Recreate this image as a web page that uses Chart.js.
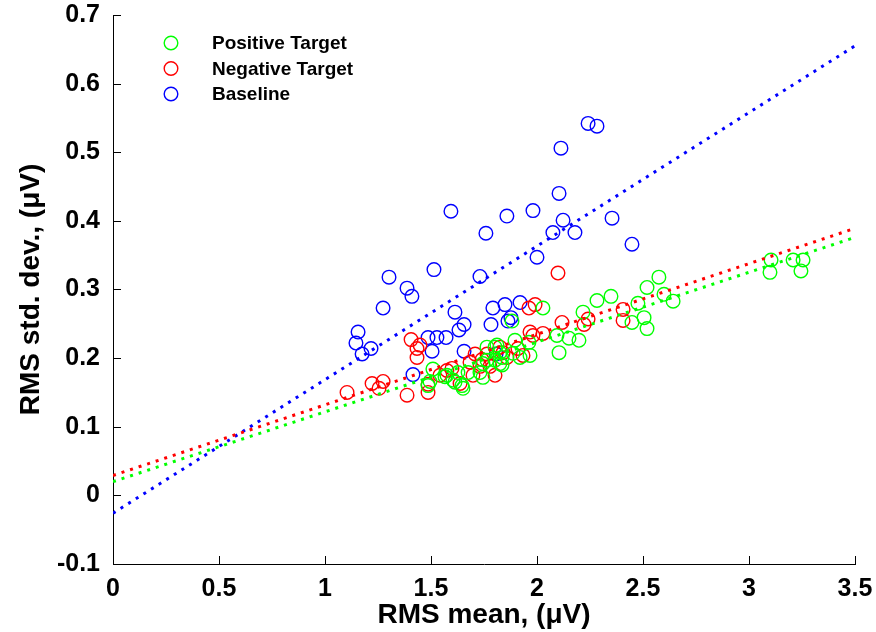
<!DOCTYPE html>
<html>
<head>
<meta charset="utf-8">
<script src="https://cdn.jsdelivr.net/npm/chart.js@4.4.1/dist/chart.umd.min.js"></script>
<style>
  html, body { margin: 0; padding: 0; background: #fff; }
  #wrap { width: 876px; height: 632px; }
</style>
</head>
<body>
<div id="wrap"><canvas id="rmsChart" width="876" height="632"></canvas></div>
<script>
// RMS mean vs RMS std. dev. per condition
const posX = [3.104, 3.099, 3.208, 3.255, 3.245, 2.575, 2.519, 2.599, 2.642, 2.476, 2.505, 2.519, 2.448,
  2.349, 2.283, 2.217, 2.104, 2.151, 2.198, 2.094, 2.028, 1.882, 1.962, 1.920, 1.896, 1.835, 1.802, 1.745,
  1.887, 1.802, 1.835, 1.745, 1.731, 1.627, 1.575, 1.646, 1.613, 1.509, 1.495, 1.486, 1.604, 1.651, 1.566,
  1.764, 1.811, 1.825, 1.764, 1.675, 1.825, 1.967];
const posY = [0.343, 0.325, 0.343, 0.343, 0.327, 0.318, 0.303, 0.293, 0.283, 0.280, 0.259, 0.243, 0.252,
  0.290, 0.284, 0.267, 0.208, 0.229, 0.226, 0.233, 0.273, 0.254, 0.223, 0.201, 0.226, 0.201, 0.216, 0.172,
  0.207, 0.197, 0.190, 0.192, 0.179, 0.179, 0.175, 0.160, 0.165, 0.184, 0.166, 0.160, 0.168, 0.156, 0.173,
  0.216, 0.219, 0.208, 0.197, 0.179, 0.192, 0.204];

const negX = [1.104, 1.222, 1.274, 1.255, 1.387, 1.406, 1.434, 1.448, 1.434, 1.486, 1.486, 1.542, 1.575,
  1.599, 1.637, 1.684, 1.708, 1.741, 1.731, 1.778, 1.802, 1.698, 1.840, 1.858, 1.910, 1.934, 1.962, 1.991,
  1.967, 1.981, 2.028, 2.099, 2.118, 2.222, 2.241, 2.406, 2.406, 1.825, 1.764];
const negY = [0.150, 0.163, 0.166, 0.156, 0.146, 0.227, 0.214, 0.219, 0.201, 0.150, 0.162, 0.175, 0.182,
  0.185, 0.163, 0.194, 0.206, 0.198, 0.188, 0.188, 0.175, 0.175, 0.208, 0.201, 0.214, 0.204, 0.273, 0.278,
  0.238, 0.233, 0.236, 0.324, 0.252, 0.249, 0.257, 0.271, 0.255, 0.216, 0.206];

const baseX = [2.241, 2.283, 2.113, 2.104, 1.594, 1.858, 1.981, 2.123, 1.759, 2.075, 2.179, 2.354, 2.448,
  2.000, 1.731, 1.514, 1.302, 1.387, 1.410, 1.274, 1.613, 1.656, 1.632, 1.156, 1.146, 1.175, 1.217, 1.486,
  1.528, 1.571, 1.505, 1.656, 1.415, 1.792, 1.849, 1.920, 1.783, 1.863, 1.877, 1.807];
const baseY = [0.542, 0.538, 0.506, 0.440, 0.414, 0.407, 0.415, 0.401, 0.382, 0.383, 0.383, 0.404, 0.366,
  0.347, 0.319, 0.329, 0.318, 0.302, 0.290, 0.273, 0.267, 0.249, 0.241, 0.238, 0.222, 0.206, 0.214, 0.230,
  0.230, 0.230, 0.210, 0.210, 0.176, 0.273, 0.278, 0.281, 0.249, 0.254, 0.259, 0.206];

// linear fits: positive, negative, baseline
const fitIntercept = [0.020, 0.029, -0.026];
const fitSlope = [0.1017, 0.1029, 0.1946];
const fitRange = [0, 3.5];

const seriesNames = ["Positive Target", "Negative Target", "Baseline"];
const seriesColors = ["#00ff00", "#ff0000", "#0000ff"];

const xTicks = [0, 0.5, 1, 1.5, 2, 2.5, 3, 3.5];
const yTicks = [-0.1, 0, 0.1, 0.2, 0.3, 0.4, 0.5, 0.6, 0.7];

const FONT = "'Liberation Sans', Arial, Helvetica, sans-serif";

function pts(xs, ys) {
  return xs.map((x, i) => ({x: x, y: ys[i]}));
}

const scatterSets = [[posX, posY], [negX, negY], [baseX, baseY]].map((s, i) => ({
  label: seriesNames[i],
  data: pts(s[0], s[1]),
  borderColor: seriesColors[i],
  backgroundColor: "rgba(0,0,0,0)",
  pointRadius: 6.8,
  pointBorderWidth: 1.4,
  pointHoverRadius: 6.8,
  showLine: false,
  order: 2
}));

const fitSets = fitIntercept.map((b, i) => ({
  label: "fit " + seriesNames[i],
  data: fitRange.map(x => ({x: x, y: b + fitSlope[i] * x})),
  borderColor: seriesColors[i],
  borderWidth: 3,
  borderDash: [3, 6],
  pointRadius: 0,
  showLine: true,
  fill: false,
  order: 1
}));

// MATLAB style inward tick marks
const inwardTicks = {
  id: "inwardTicks",
  afterDraw(chart) {
    const ctx = chart.ctx;
    const a = chart.chartArea;
    const xs = chart.scales.x, ys = chart.scales.y;
    ctx.save();
    ctx.strokeStyle = "#000";
    ctx.lineWidth = 1;
    ctx.beginPath();
    xs.ticks.forEach(t => {
      const px = Math.round(xs.getPixelForValue(t.value)) + 0.5;
      ctx.moveTo(px, a.bottom);
      ctx.lineTo(px, a.bottom - 8);
    });
    ys.ticks.forEach(t => {
      const py = Math.round(ys.getPixelForValue(t.value)) + 0.5;
      ctx.moveTo(a.left, py);
      ctx.lineTo(a.left + 8, py);
    });
    ctx.stroke();
    ctx.restore();
  }
};

// legend box inside the plot, top left
const plotLegend = {
  id: "plotLegend",
  afterDraw(chart) {
    const ctx = chart.ctx;
    ctx.save();
    ctx.font = "bold 19px " + FONT;
    ctx.textBaseline = "middle";
    seriesNames.forEach((name, i) => {
      const y = 43 + i * 25.5;
      ctx.strokeStyle = seriesColors[i];
      ctx.lineWidth = 1.4;
      ctx.beginPath();
      ctx.arc(171, y, 6.8, 0, Math.PI * 2);
      ctx.stroke();
      ctx.fillStyle = "#000";
      ctx.fillText(name, 212, y + 1);
    });
    ctx.restore();
  }
};

new Chart(document.getElementById("rmsChart"), {
  type: "scatter",
  data: {datasets: scatterSets.concat(fitSets)},
  options: {
    responsive: false,
    animation: false,
    events: [],
    layout: {padding: {top: 15, right: 21, left: 0, bottom: 0}},
    plugins: {legend: {display: false}, tooltip: {enabled: false}},
    scales: {
      x: {
        type: "linear",
        min: 0,
        max: 3.5,
        afterFit: s => { s.height = 68; s.paddingLeft = 0; s.paddingRight = 0; },
        afterBuildTicks: s => { s.ticks = xTicks.map(v => ({value: v})); },
        grid: {display: false, drawTicks: false},
        border: {display: true, color: "#000", width: 1},
        ticks: {
          color: "#000",
          padding: 10,
          maxRotation: 0,
          font: {family: FONT, size: 25, weight: "bold"},
          callback: v => String(v)
        },
        title: {
          display: true,
          text: "RMS mean, (\u03bcV)",
          color: "#000",
          padding: {top: 0, bottom: 0},
          font: {family: FONT, size: 28, weight: "bold"}
        }
      },
      y: {
        type: "linear",
        min: -0.1,
        max: 0.7,
        afterFit: s => { s.width = 113; s.paddingTop = 0; s.paddingBottom = 0; },
        afterBuildTicks: s => { s.ticks = yTicks.map(v => ({value: v})); },
        grid: {display: false, drawTicks: false},
        border: {display: true, color: "#000", width: 1},
        ticks: {
          color: "#000",
          padding: 13,
          font: {family: FONT, size: 25, weight: "bold"},
          callback: v => String(Math.round(v * 10) / 10)
        },
        title: {
          display: true,
          text: "RMS std. dev., (\u03bcV)",
          color: "#000",
          padding: {top: 14, bottom: 0},
          font: {family: FONT, size: 28, weight: "bold"}
        }
      }
    }
  },
  plugins: [inwardTicks, plotLegend]
});
</script>
</body>
</html>
